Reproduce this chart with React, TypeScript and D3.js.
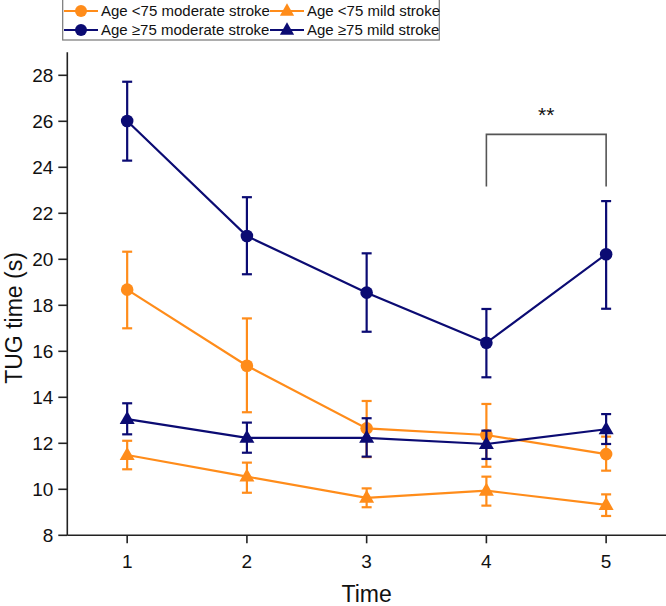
import React from "react";
import * as d3 from "d3";

const times = [1, 2, 3, 4, 5];
const yTicks = [8, 10, 12, 14, 16, 18, 20, 22, 24, 26, 28];

const under75ModMean = [18.68, 15.37, 12.65, 12.36, 11.53];
const under75ModLow = [17.0, 13.35, 11.4, 10.98, 10.81];
const under75ModHigh = [20.33, 17.43, 13.84, 13.71, 12.29];

const under75MildMean = [11.49, 10.55, 9.63, 9.94, 9.32];
const under75MildLow = [10.87, 9.85, 9.22, 9.29, 8.84];
const under75MildHigh = [12.11, 11.16, 10.04, 10.55, 9.78];

const over75ModMean = [26.01, 21.01, 18.55, 16.37, 20.22];
const over75ModLow = [24.29, 19.35, 16.85, 14.87, 17.85];
const over75ModHigh = [27.72, 22.7, 20.26, 17.84, 22.53];

const over75MildMean = [13.05, 12.24, 12.24, 11.97, 12.61];
const over75MildLow = [12.39, 11.59, 11.42, 11.32, 11.97];
const over75MildHigh = [13.74, 12.9, 13.09, 12.55, 13.27];

const ORANGE = "#FF8C1A";
const NAVY = "#0B0B73";

const series = [
  { name: "Age <75 moderate stroke", color: ORANGE, shape: "circle", mean: under75ModMean, low: under75ModLow, high: under75ModHigh },
  { name: "Age <75 mild stroke", color: ORANGE, shape: "triangle", mean: under75MildMean, low: under75MildLow, high: under75MildHigh },
  { name: "Age ≥75 moderate stroke", color: NAVY, shape: "circle", mean: over75ModMean, low: over75ModLow, high: over75ModHigh },
  { name: "Age ≥75 mild stroke", color: NAVY, shape: "triangle", mean: over75MildMean, low: over75MildLow, high: over75MildHigh },
];

const sigFrom = 4;
const sigTo = 5;
const sigTop = 25.43;
const sigLeg = 23.16;
const sigLabel = "**";

const FONT = "'Liberation Sans', Arial, sans-serif";

function Marker({ shape, x, y, color, size = 1 }: any) {
  if (shape === "circle") return <circle cx={x} cy={y} r={6.3 * size} fill={color} />;
  const s = 15 * size;
  const h = s * 0.87;
  const p = `${x},${y - h * 0.62} ${x + s / 2},${y + h * 0.38} ${x - s / 2},${y + h * 0.38}`;
  return <polygon points={p} fill={color} />;
}

export default function App() {
  const W = 666;
  const H = 606;
  const x = d3.scaleLinear().domain([0.5, 5.5]).range([67.3, 666]);
  const y = d3.scaleLinear().domain([8, 29]).range([535.3, 52.3]);
  const line = d3
    .line<number>()
    .x((_, i) => x(times[i]))
    .y((d) => y(d));

  const legendItems = [
    { s: series[0], col: 0, row: 0 },
    { s: series[1], col: 1, row: 0 },
    { s: series[2], col: 0, row: 1 },
    { s: series[3], col: 1, row: 1 },
  ];
  const colX = [63, 269];
  const rowY = [11, 30];

  return (
    <svg width={W} height={H} style={{ position: "absolute", left: 0, top: 0, background: "#fff" }} fontFamily={FONT}>
      {/* axes */}
      <line x1={x(0.5)} x2={x(0.5)} y1={y(29)} y2={y(8)} stroke="#222" strokeWidth={1.6} />
      <line x1={x(0.5)} x2={W} y1={y(8)} y2={y(8)} stroke="#222" strokeWidth={1.6} />
      {yTicks.map((t) => (
        <g key={t}>
          <line x1={x(0.5) - 9} x2={x(0.5)} y1={y(t)} y2={y(t)} stroke="#222" strokeWidth={1.6} />
          <text x={x(0.5) - 14} y={y(t)} dy="0.35em" textAnchor="end" fontSize={19} fill="#111">
            {t}
          </text>
        </g>
      ))}
      {times.map((t) => (
        <g key={t}>
          <line x1={x(t)} x2={x(t)} y1={y(8)} y2={y(8) + 8} stroke="#222" strokeWidth={1.6} />
          <text x={x(t)} y={y(8) + 26} dy="0.35em" textAnchor="middle" fontSize={19} fill="#111">
            {t}
          </text>
        </g>
      ))}
      <text x={x(3)} y={602} textAnchor="middle" fontSize={23} fill="#111">
        Time
      </text>
      <text
        transform={`translate(14, 318) rotate(-90)`}
        dy="0.35em"
        textAnchor="middle"
        fontSize={23}
        fill="#111"
      >
        TUG time (s)
      </text>

      {/* series */}
      {series.map((s) => (
        <g key={s.name}>
          <path d={line(s.mean) || ""} fill="none" stroke={s.color} strokeWidth={2.2} />
          {times.map((t, i) => (
            <g key={t} stroke={s.color} strokeWidth={2.2}>
              <line x1={x(t)} x2={x(t)} y1={y(s.low[i])} y2={y(s.high[i])} />
              <line x1={x(t) - 5} x2={x(t) + 5} y1={y(s.low[i])} y2={y(s.low[i])} />
              <line x1={x(t) - 5} x2={x(t) + 5} y1={y(s.high[i])} y2={y(s.high[i])} />
            </g>
          ))}
          {times.map((t, i) => (
            <Marker key={t} shape={s.shape} x={x(t)} y={y(s.mean[i])} color={s.color} />
          ))}
        </g>
      ))}

      {/* significance bracket */}
      <path
        d={`M${x(sigFrom)},${y(sigLeg)} V${y(sigTop)} H${x(sigTo)} V${y(sigLeg)}`}
        fill="none"
        stroke="#555"
        strokeWidth={1.6}
      />
      <text x={(x(sigFrom) + x(sigTo)) / 2} y={y(sigTop) - 12} textAnchor="middle" fontSize={21} fill="#111">
        {sigLabel}
      </text>

      {/* legend */}
      <rect x={62.7} y={-2} width={376.6} height={42} fill="#fff" stroke="#777" strokeWidth={1.2} />
      {legendItems.map(({ s, col, row }) => (
        <g key={s.name}>
          <line x1={colX[col] + 1} x2={colX[col] + 35} y1={rowY[row]} y2={rowY[row]} stroke={s.color} strokeWidth={2.2} />
          <Marker shape={s.shape} x={colX[col] + 18} y={rowY[row]} color={s.color} size={0.95} />
          <text x={colX[col] + 38} y={rowY[row]} dy="0.35em" fontSize={15} fill="#111">
            {s.name}
          </text>
        </g>
      ))}
    </svg>
  );
}
